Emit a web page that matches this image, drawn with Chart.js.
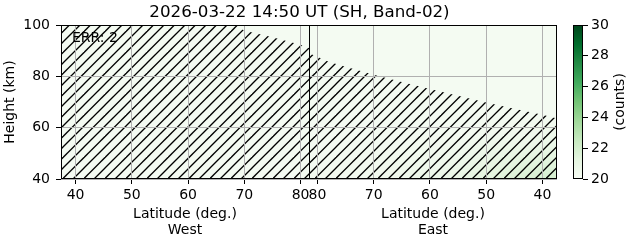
<!DOCTYPE html>
<html>
<head>
<meta charset="utf-8">
<script src="https://cdn.jsdelivr.net/npm/chart.js@4/dist/chart.umd.min.js"></script>
<style>
body { margin: 0; background: #fff; }
#wrap { position: relative; width: 631px; height: 243px; }
canvas { position: absolute; top: 0; }
</style>
</head>
<body>
<div id="wrap">
  <canvas id="chart" width="631" height="243" style="left:0"></canvas>
  <canvas id="cbar" width="74" height="243" style="left:557px"></canvas>
</div>
<script>
const titleText = '2026-03-22 14:50 UT (SH, Band-02)';
const errText = 'ERR: 2';
const xTitle = 'Latitude (deg.)';
const sideNames = ['West', 'East'];
const yTitle = 'Height (km)';
const cbarTitle = '(counts)';

// both panels run from the outer latitude to the pole-side edge
const latMin = 37.4;
const latPole = 81.5;

const westTickLats = [40, 50, 60, 70, 80];
const eastTickLats = [80, 70, 60, 50, 40];
const heightTicks = [40, 60, 80, 100];
const cbarTicks = [20, 22, 24, 26, 28, 30];

// upper edge of the hatched (no data) area
const westEdgeLat = [37.4, 68.5, 70, 72, 75, 78, 80, 81.5];
const westEdgeHeight = [100, 100, 97.8, 96.8, 95.2, 93.5, 92.3, 91];
const eastEdgeLat = [81.5, 80, 78, 75, 72, 70, 65, 60, 55, 50, 45, 40, 37.4];
const eastEdgeHeight = [89, 87.6, 85.7, 83.7, 81.9, 80.6, 77.8, 75.1, 72.4, 69.8, 67.4, 65, 63.6];

// counts (East side, lower heights); everything else sits at baseCount
const baseCount = 20.2;
const heatLats = [80, 75, 70, 65, 60, 55, 50, 45, 40];
const heatHeights = [65, 60, 55, 50, 45, 40];
const counts65 = [20.2, 20.2, 20.2, 20.2, 20.2, 20.2, 20.2, 20.2, 20.2];
const counts60 = [20.2, 20.2, 20.2, 20.2, 20.2, 20.2, 20.3, 20.3, 20.4];
const counts55 = [20.2, 20.2, 20.2, 20.2, 20.3, 20.3, 20.4, 20.5, 20.6];
const counts50 = [20.2, 20.2, 20.3, 20.3, 20.4, 20.5, 20.7, 20.9, 21.1];
const counts45 = [20.2, 20.3, 20.3, 20.4, 20.5, 20.7, 21.0, 21.3, 21.5];
const counts40 = [20.3, 20.3, 20.4, 20.5, 20.7, 21.0, 21.3, 21.6, 21.9];
const countRows = [counts65, counts60, counts55, counts50, counts45, counts40];

const greens = ['#f7fcf5', '#e5f5e0', '#c7e9c0', '#a1d99b', '#74c476', '#41ab5d', '#238b45', '#006d2c', '#00441b'];

// east latitudes are mirrored onto one continuous axis
const eastU = (lat) => 2 * latPole - lat;
const xTickPos = westTickLats.concat(eastTickLats.map(eastU));
const xTickLabels = westTickLats.concat(eastTickLats).map(String);

const hexRgb = (h) => [1, 3, 5].map((i) => parseInt(h.substr(i, 2), 16));
function cmap(v) {
  let t = (v - 20) / 10 * (greens.length - 1);
  t = Math.max(0, Math.min(greens.length - 1, t));
  const i = Math.min(Math.floor(t), greens.length - 2);
  const f = t - i;
  const a = hexRgb(greens[i]), b = hexRgb(greens[i + 1]);
  return a.map((c, k) => Math.round(c + (b[k] - c) * f));
}
const rgbStr = (c) => `rgb(${c[0]},${c[1]},${c[2]})`;

// '/' hatch, ~10.5 px apart
function makeHatch() {
  const s = 21;
  const c = document.createElement('canvas');
  c.width = s; c.height = s;
  const g = c.getContext('2d');
  g.strokeStyle = '#000';
  g.lineWidth = 1.3;
  for (let k = -1; k <= 5; k++) {
    const d = k * s / 2;
    g.beginPath();
    g.moveTo(d + 5, -5);
    g.lineTo(d - s - 5, s + 5);
    g.stroke();
  }
  return g.createPattern(c, 'repeat');
}
const hatch = makeHatch();

Chart.defaults.font.family = 'DejaVu Sans';
Chart.defaults.font.size = 14;
Chart.defaults.color = '#000';

const gridOpts = { color: '#b0b0b0', lineWidth: 1, tickColor: '#000', tickLength: 5, z: 1 };

// heatmap under the hatch, frame and texts on top
const panelDecor = {
  id: 'panelDecor',
  beforeDatasetsDraw(chart) {
    const { ctx, chartArea: a, scales: { x, y } } = chart;
    ctx.save();
    ctx.beginPath();
    ctx.rect(a.left, a.top, a.width, a.height);
    ctx.clip();
    ctx.fillStyle = rgbStr(cmap(baseCount));
    ctx.fillRect(a.left, a.top, a.width, a.height);

    const img = document.createElement('canvas');
    img.width = heatLats.length; img.height = heatHeights.length;
    const g = img.getContext('2d');
    const data = g.createImageData(img.width, img.height);
    countRows.forEach((row, j) => row.forEach((v, i) => {
      const c = cmap(v), p = (j * img.width + i) * 4;
      data.data[p] = c[0]; data.data[p + 1] = c[1]; data.data[p + 2] = c[2]; data.data[p + 3] = 255;
    }));
    g.putImageData(data, 0, 0);
    const left = x.getPixelForValue(eastU(heatLats[0]) - 2.5);
    const right = x.getPixelForValue(eastU(heatLats[heatLats.length - 1]) + 2.5);
    const top = y.getPixelForValue(heatHeights[0] + 2.5);
    const bottom = y.getPixelForValue(heatHeights[heatHeights.length - 1] - 2.5);
    ctx.imageSmoothingEnabled = true;
    ctx.drawImage(img, left, top, right - left, bottom - top);
    ctx.restore();
  },
  afterDraw(chart) {
    const { ctx, chartArea: a, scales: { x } } = chart;
    ctx.save();
    ctx.strokeStyle = '#000';
    ctx.lineWidth = 1;
    ctx.strokeRect(a.left + 0.5, a.top + 0.5, a.width - 1, a.height - 1);
    const xs = Math.round(x.getPixelForValue(latPole)) + 0.5;
    ctx.beginPath();
    ctx.moveTo(xs, a.top);
    ctx.lineTo(xs, a.bottom);
    ctx.stroke();

    ctx.fillStyle = '#000';
    ctx.textBaseline = 'middle';
    ctx.font = '14px "DejaVu Sans"';
    ctx.textAlign = 'left';
    ctx.fillText(errText, 72, 38);
    ctx.textAlign = 'center';
    const centers = [x.getPixelForValue((latMin + latPole) / 2), x.getPixelForValue(eastU((latMin + latPole) / 2))];
    centers.forEach((cx, i) => {
      ctx.fillText(xTitle, cx, 214);
      ctx.fillText(sideNames[i], cx, 230);
    });
    ctx.font = '16.7px "DejaVu Sans"';
    ctx.fillText(titleText, 299.5, 12.5);
    ctx.restore();
  }
};

new Chart(document.getElementById('chart'), {
  type: 'line',
  data: {
    datasets: [
      {
        data: westEdgeLat.map((lat, i) => ({ x: lat, y: westEdgeHeight[i] })),
        fill: 'start', backgroundColor: hatch, borderWidth: 0, pointRadius: 0
      },
      {
        data: eastEdgeLat.map((lat, i) => ({ x: eastU(lat), y: eastEdgeHeight[i] })),
        fill: 'start', backgroundColor: hatch, borderWidth: 0, pointRadius: 0
      }
    ]
  },
  options: {
    responsive: false,
    animation: false,
    devicePixelRatio: 1,
    layout: { padding: { left: 0, top: 25, right: 74, bottom: 0 } },
    plugins: { legend: { display: false }, tooltip: { enabled: false } },
    scales: {
      x: {
        type: 'linear', min: latMin, max: eastU(latMin),
        afterBuildTicks: (s) => { s.ticks = xTickPos.map((v) => ({ value: v })); },
        afterFit: (s) => { s.height = 64; },
        ticks: { autoSkip: false, maxRotation: 0, padding: 3, callback: (v, i) => xTickLabels[i] },
        grid: gridOpts,
        border: { display: false }
      },
      y: {
        min: heightTicks[0], max: heightTicks[heightTicks.length - 1],
        afterBuildTicks: (s) => { s.ticks = heightTicks.map((v) => ({ value: v })); },
        afterFit: (s) => { s.width = 61; },
        ticks: { padding: 6 },
        title: { display: true, text: yTitle, padding: { top: 2, bottom: 0 } },
        grid: gridOpts,
        border: { display: false }
      }
    }
  },
  plugins: [panelDecor]
});

const cbarDecor = {
  id: 'cbarDecor',
  beforeDatasetsDraw(chart) {
    const { ctx, chartArea: a, scales: { y } } = chart;
    const grad = ctx.createLinearGradient(0, y.getPixelForValue(20), 0, y.getPixelForValue(30));
    greens.forEach((c, i) => grad.addColorStop(i / (greens.length - 1), c));
    ctx.save();
    ctx.fillStyle = grad;
    ctx.fillRect(a.left, a.top, a.width, a.height);
    ctx.restore();
  },
  afterDraw(chart) {
    const { ctx, chartArea: a } = chart;
    ctx.save();
    ctx.strokeStyle = '#000';
    ctx.lineWidth = 1;
    ctx.strokeRect(a.left + 0.5, a.top + 0.5, a.width - 1, a.height - 1);
    ctx.translate(63, (a.top + a.bottom) / 2);
    ctx.rotate(-Math.PI / 2);
    ctx.fillStyle = '#000';
    ctx.font = '14px "DejaVu Sans"';
    ctx.textAlign = 'center';
    ctx.textBaseline = 'middle';
    ctx.fillText(cbarTitle, 0, 0);
    ctx.restore();
  }
};

new Chart(document.getElementById('cbar'), {
  type: 'bar',
  data: { labels: [], datasets: [] },
  options: {
    responsive: false,
    animation: false,
    devicePixelRatio: 1,
    layout: { padding: { left: 16, top: 25, right: 0, bottom: 64 } },
    plugins: { legend: { display: false }, tooltip: { enabled: false } },
    scales: {
      x: { display: false },
      y: {
        position: 'right', min: cbarTicks[0], max: cbarTicks[cbarTicks.length - 1],
        afterBuildTicks: (s) => { s.ticks = cbarTicks.map((v) => ({ value: v })); },
        afterFit: (s) => { s.width = 48; },
        ticks: { padding: 3 },
        grid: { drawOnChartArea: false, tickColor: '#000', tickLength: 5 },
        border: { display: false }
      }
    }
  },
  plugins: [cbarDecor]
});
</script>
</body>
</html>
